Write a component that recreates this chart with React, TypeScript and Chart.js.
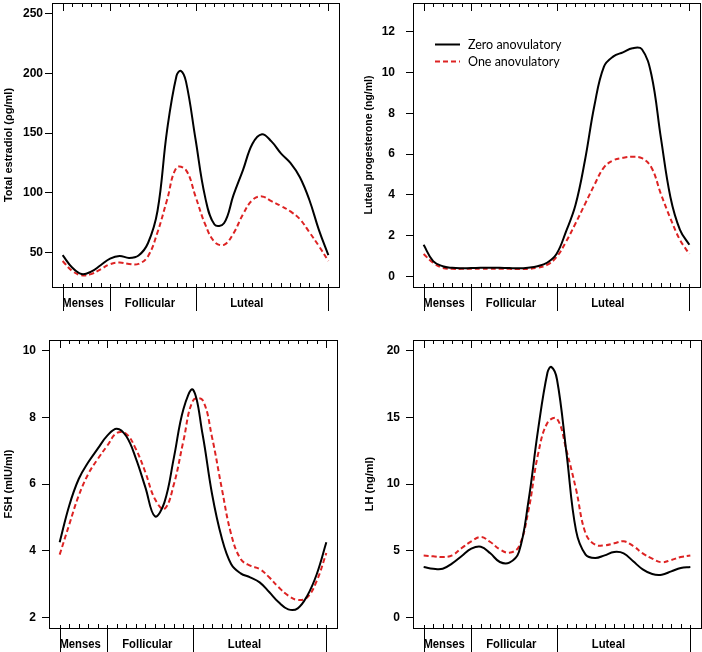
import React, { useEffect, useRef } from "react";
import { Chart, registerables } from "chart.js";

Chart.register(...registerables);

// ---------- data ----------
// cycle day (x categories), shared by every panel
const DAYS = [0, 1, 2, 3, 4, 5, 6, 7, 8, 9, 10, 11, 12, 13, 14, 15, 16, 17, 18, 19, 20, 21, 22, 23, 24, 25, 26, 27, 28];
const PHASE_BOUNDS = [0, 5, 14, 28];
const PHASE_LABELS = ["Menses", "Follicular", "Luteal"];
const PHASE_LABEL_POS = [2.15, 9.2, 19.4];
const SERIES_NAMES = ["Zero anovulatory", "One anovulatory"];

// Total estradiol (pg/ml)
const E2_ZERO = [47.8, 37.5, 32, 34, 39.4, 45, 47.2, 45.5, 47.5, 58, 85, 152, 198, 193, 145, 97, 73.5, 74.5, 98, 119, 141, 149, 143, 133, 125, 113, 94, 69, 47.8];
const E2_ZERO_PEAK_X = [12.45];
const E2_ZERO_PEAK_Y = [202];
const E2_ONE = [43, 34.7, 31, 32, 36, 40.3, 41.7, 40.5, 40.5, 47, 67, 94, 121, 119, 97, 74, 59, 56.5, 66, 82, 94, 97, 93, 89, 84.5, 78, 67, 55.5, 43];

// Luteal progesterone (ng/ml)
const P4_ZERO = [1.55, 0.75, 0.5, 0.42, 0.4, 0.41, 0.42, 0.43, 0.42, 0.41, 0.4, 0.43, 0.5, 0.67, 1.1, 2.2, 3.5, 5.7, 8.4, 10.3, 10.8, 11.0, 11.2, 11.15, 9.9, 6.8, 3.9, 2.3, 1.55];
const P4_ONE = [1.1, 0.67, 0.42, 0.37, 0.37, 0.38, 0.38, 0.38, 0.38, 0.37, 0.36, 0.37, 0.43, 0.56, 0.95, 1.7, 2.6, 3.55, 4.5, 5.35, 5.7, 5.82, 5.87, 5.8, 5.35, 4.05, 2.85, 1.8, 1.1];

// FSH (mIU/ml)
const FSH_ZERO = [4.25, 5.35, 6.15, 6.65, 7.06, 7.45, 7.66, 7.43, 6.77, 5.9, 5.03, 5.45, 6.8, 8.25, 8.83, 7.5, 5.7, 4.4, 3.6, 3.32, 3.2, 3.05, 2.76, 2.45, 2.24, 2.27, 2.65, 3.3, 4.25];
const FSH_ONE = [3.88, 4.78, 5.65, 6.3, 6.75, 7.15, 7.53, 7.5, 7.05, 6.35, 5.55, 5.25, 6.0, 7.3, 8.5, 8.52, 7.4, 5.9, 4.5, 3.75, 3.55, 3.45, 3.2, 2.9, 2.65, 2.52, 2.6, 3.1, 3.93];

// LH (ng/ml)
const LH_ZERO = [3.78, 3.65, 3.65, 4.05, 4.6, 5.15, 5.3, 4.8, 4.15, 4.1, 4.9, 8.7, 14.0, 18.36, 17.84, 12.3, 6.5, 4.7, 4.45, 4.65, 4.9, 4.8, 4.2, 3.6, 3.25, 3.2, 3.45, 3.7, 3.78];
const LH_ZERO_PEAK_X = [13.4];
const LH_ZERO_PEAK_Y = [18.78];
const LH_ONE = [4.63, 4.58, 4.52, 4.65, 5.2, 5.7, 6.03, 5.65, 5.1, 4.85, 5.3, 8.0, 12.2, 14.6, 14.9, 12.5, 9.6, 6.3, 5.45, 5.4, 5.55, 5.7, 5.35, 4.8, 4.4, 4.13, 4.3, 4.52, 4.63];

const E2_TICKS = [50, 100, 150, 200, 250];
const P4_TICKS = [0, 2, 4, 6, 8, 10, 12];
const FSH_TICKS = [2, 4, 6, 8, 10];
const LH_TICKS = [0, 5, 10, 15, 20];

// ---------- styling / layout ----------
const BLACK = "#000000";
const RED = "#dd2323";
const RED_DASH = [5, 3];
const AXIS_FONT = "Liberation Sans";

type PanelDef = {
  key: string;
  title: string;
  titleSize: number;
  zero: number[];
  zeroExtraX: number[];
  zeroExtraY: number[];
  one: number[];
  ticks: number[];
  yMin: number;
  yMax: number;
  left: number;
  top: number;
  yWidth: number;
  padRight: number;
  padTop: number;
  padBottom: number;
  titlePad: number;
  tickPad: number;
  legend: boolean;
};

const PANELS: PanelDef[] = [
  {
    key: "e2", title: "Total estradiol (\u03c1g/ml)", titleSize: 11, zero: E2_ZERO, zeroExtraX: E2_ZERO_PEAK_X, zeroExtraY: E2_ZERO_PEAK_Y, one: E2_ONE,
    ticks: E2_TICKS, yMin: 21.2, yMax: 258.8, left: 0, top: 0, yWidth: 52, padRight: 12, padTop: 3, padBottom: 39,
    titlePad: 2, tickPad: 2, legend: false,
  },
  {
    key: "p4", title: "Luteal progesterone (ng/ml)", titleSize: 10.5, zero: P4_ZERO, zeroExtraX: [], zeroExtraY: [], one: P4_ONE,
    ticks: P4_TICKS, yMin: -0.52, yMax: 13.42, left: 351, top: 0, yWidth: 62, padRight: 2, padTop: 3, padBottom: 39,
    titlePad: 12, tickPad: 11, legend: true,
  },
  {
    key: "fsh", title: "FSH (mIU/ml)", titleSize: 11, zero: FSH_ZERO, zeroExtraX: [], zeroExtraY: [], one: FSH_ONE,
    ticks: FSH_TICKS, yMin: 1.68, yMax: 10.32, left: 0, top: 326, yWidth: 49, padRight: 14, padTop: 14, padBottom: 24,
    titlePad: 2, tickPad: 6, legend: false,
  },
  {
    key: "lh", title: "LH (ng/ml)", titleSize: 11, zero: LH_ZERO, zeroExtraX: LH_ZERO_PEAK_X, zeroExtraY: LH_ZERO_PEAK_Y, one: LH_ONE,
    ticks: LH_TICKS, yMin: -0.8, yMax: 20.8, left: 351, top: 326, yWidth: 62, padRight: 1, padTop: 14, padBottom: 24,
    titlePad: 12, tickPad: 6, legend: false,
  },
];

const CANVAS_W = 351;
const CANVAS_H = 326;

const framePlugin = {
  id: "frameAndPhases",
  afterDraw(chart: any) {
    const { ctx, chartArea: a, scales } = chart;
    const x = scales.x;
    const showLegend = chart.options.plugins.frameAndPhases?.legend;
    ctx.save();
    ctx.strokeStyle = BLACK;
    ctx.lineWidth = 1;
    const L = Math.round(a.left);
    const R = Math.round(a.right);
    const T = Math.round(a.top);
    const B = Math.round(a.bottom);
    ctx.strokeRect(L + 0.5, T + 0.5, R - L, B - T);

    ctx.beginPath();
    DAYS.forEach((d) => {
      const px = Math.round(x.getPixelForValue(d)) + 0.5;
      const boundary = PHASE_BOUNDS.includes(d);
      ctx.moveTo(px, T);
      ctx.lineTo(px, T + (boundary ? 8 : 4));
      if (boundary) {
        ctx.moveTo(px, B - 3);
        ctx.lineTo(px, B + 24);
      } else {
        ctx.moveTo(px, B);
        ctx.lineTo(px, B - 4);
      }
    });
    ctx.stroke();

    ctx.fillStyle = BLACK;
    ctx.font = `bold 12px "${AXIS_FONT}"`;
    ctx.textAlign = "center";
    ctx.textBaseline = "alphabetic";
    PHASE_LABELS.forEach((t, i) => {
      const w = ctx.measureText(t).width * 0.94;
      ctx.fillText(t, x.getPixelForValue(PHASE_LABEL_POS[i]), B + 20, w);
    });

    if (showLegend) {
      const rows = [44, 61];
      chart.data.datasets.forEach((ds: any, i: number) => {
        const y = rows[i] + 0.5;
        ctx.save();
        ctx.strokeStyle = ds.borderColor;
        ctx.lineWidth = 2;
        ctx.setLineDash(ds.borderDash || []);
        ctx.beginPath();
        ctx.moveTo(84, y);
        ctx.lineTo(109, y);
        ctx.stroke();
        ctx.restore();
        ctx.fillStyle = BLACK;
        ctx.font = `12.5px Lato`;
        ctx.textAlign = "left";
        ctx.textBaseline = "middle";
        ctx.fillText(ds.label, 117, rows[i] + 0.5);
      });
    }
    ctx.restore();
  },
};

function buildConfig(def: PanelDef): any {
  const toPoints = (ys: number[], exX: number[] = [], exY: number[] = []) =>
    DAYS.map((d, i) => ({ x: d, y: ys[i] }))
      .concat(exX.map((x, i) => ({ x, y: exY[i] })))
      .sort((p, q) => p.x - q.x);
  const dayMin = DAYS[0];
  const dayMax = DAYS[DAYS.length - 1];
  const ext = (dayMax - dayMin) * 0.04;
  return {
    type: "line",
    data: {
      datasets: [
        {
          label: SERIES_NAMES[0],
          data: toPoints(def.zero, def.zeroExtraX, def.zeroExtraY),
          borderColor: BLACK,
          borderWidth: 2,
          pointRadius: 0,
          fill: false,
          tension: 0.4,
        },
        {
          label: SERIES_NAMES[1],
          data: toPoints(def.one),
          borderColor: RED,
          borderWidth: 2,
          borderDash: RED_DASH,
          pointRadius: 0,
          fill: false,
          tension: 0.4,
        },
      ],
    },
    options: {
      responsive: false,
      maintainAspectRatio: false,
      animation: false,
      events: [],
      layout: { padding: { left: 0, right: def.padRight, top: def.padTop, bottom: def.padBottom } },
      plugins: {
        legend: { display: false },
        tooltip: { enabled: false },
        title: { display: false },
        frameAndPhases: { legend: def.legend },
      },
      scales: {
        x: { type: "linear", display: false, min: dayMin - ext, max: dayMax + ext },
        y: {
          type: "linear",
          position: "left",
          min: def.yMin,
          max: def.yMax,
          afterBuildTicks: (s: any) => {
            s.ticks = def.ticks.map((v) => ({ value: v }));
          },
          afterFit: (s: any) => {
            s.width = def.yWidth;
            s.paddingTop = 0;
            s.paddingBottom = 0;
          },
          ticks: {
            color: BLACK,
            font: { family: AXIS_FONT, size: 12, weight: "bold" },
            padding: def.tickPad,
            autoSkip: false,
            maxRotation: 0,
          },
          grid: { drawOnChartArea: false, drawTicks: true, tickLength: 7, color: BLACK, lineWidth: 1 },
          border: { display: true, color: BLACK, width: 1 },
          title: {
            display: true,
            text: def.title,
            color: BLACK,
            font: { family: AXIS_FONT, size: def.titleSize, weight: "bold" },
            padding: { top: def.titlePad, bottom: 0 },
          },
        },
      },
    },
    plugins: [framePlugin],
  };
}

function Panel({ def }: { def: PanelDef }) {
  const ref = useRef<HTMLCanvasElement>(null);
  useEffect(() => {
    if (!ref.current) return;
    const chart = new Chart(ref.current, buildConfig(def));
    return () => chart.destroy();
  }, [def]);
  return (
    <canvas
      ref={ref}
      width={CANVAS_W}
      height={CANVAS_H}
      style={{ position: "absolute", left: def.left, top: def.top, width: CANVAS_W, height: CANVAS_H }}
    />
  );
}

export default function App() {
  return (
    <div style={{ position: "absolute", left: 0, top: 0, width: 702, height: 652, background: "#ffffff", overflow: "hidden" }}>
      {PANELS.map((p) => (
        <Panel key={p.key} def={p} />
      ))}
    </div>
  );
}
